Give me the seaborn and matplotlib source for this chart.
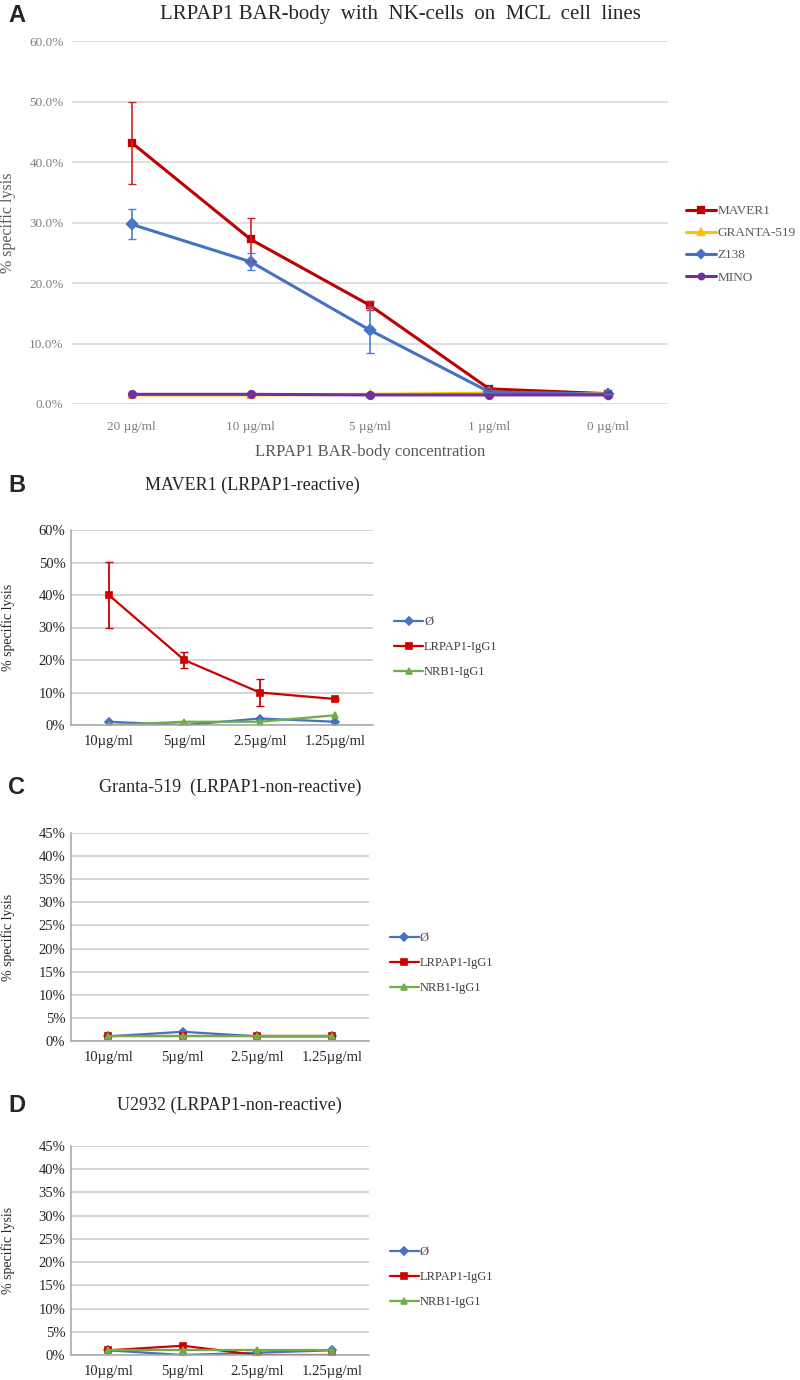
import pandas as pd
import numpy as np
import matplotlib
matplotlib.use('Agg')
import matplotlib.pyplot as plt
from matplotlib.ticker import PercentFormatter
import seaborn as sns

# Panel A data (% specific lysis)
conc_a = ['20 µg/ml', '10 µg/ml', '5 µg/ml', '1 µg/ml', '0 µg/ml']
lines_a = ['MAVER1', 'GRANTA-519', 'Z138', 'MINO']
maver1 = [43.2, 27.2, 16.3, 2.5, 1.7]
maver1_err = [6.8, 3.5, 0.7, 0.0, 0.0]
granta = [1.5, 1.5, 1.6, 1.8, 1.7]
z138 = [29.7, 23.5, 12.2, 2.0, 1.6]
z138_err = [2.5, 1.4, 3.8, 0.0, 0.0]
mino = [1.6, 1.6, 1.5, 1.5, 1.5]

# Panels B-D data
conc_bcd = ['10µg/ml', '5µg/ml', '2.5µg/ml', '1.25µg/ml']
treat = ['Ø', 'LRPAP1-IgG1', 'NRB1-IgG1']
b_none = [1, 0, 2, 1]
b_lrpap1 = [40, 20, 10, 8]
b_lrpap1_err = [10.3, 2.5, 4.2, 0.4]
b_nrb1 = [0, 1, 1, 3]
c_none = [1, 2, 1, 1]
c_lrpap1 = [1, 1, 1, 1]
c_nrb1 = [1, 1, 1, 1]
d_none = [1, 0, 0.5, 1]
d_lrpap1 = [1, 2, 0, 0]
d_nrb1 = [1, 1, 1, 1]

colors_a = ['#c00000', '#ffc000', '#4472c4', '#7030a0']
colors_b = ['#4472c4', '#cc0000', '#70ad47']

sns.set_style('white')
plt.rcParams['font.family'] = ['Liberation Serif', 'DejaVu Serif']

W, H = 800, 1380
fig = plt.figure(figsize=(W / 100, H / 100), dpi=100)


def box(x0, x1, ytop, ybot):
    return [x0 / W, 1 - ybot / H, (x1 - x0) / W, (ybot - ytop) / H]


def long_df(cats, names, series):
    return pd.DataFrame({
        'conc': np.tile(cats, len(names)),
        'lysis': np.concatenate([np.asarray(s, float) for s in series]),
        'line': np.repeat(names, len(cats)),
    })


def draw(ax, cats, names, series, colors, markers, lw, ms):
    df = long_df(cats, names, series)
    sns.pointplot(data=df, x='conc', y='lysis', hue='line', order=cats,
                  hue_order=names, palette=dict(zip(names, colors)),
                  markers=markers, linestyles='-', errorbar=None,
                  linewidth=lw, markersize=ms, ax=ax)
    ax.set_xlim(-0.5, len(cats) - 0.5)


# ---------------- Panel A ----------------
axa = fig.add_axes(box(72, 668, 41, 404))
draw(axa, conc_a, lines_a, [maver1, granta, z138, mino], colors_a,
     ['s', '^', 'D', 'o'], 2.2, 5)
axa.errorbar(range(len(conc_a)), maver1, yerr=maver1_err, fmt='none',
             ecolor='#d42020', elinewidth=1.2, capsize=3, zorder=5)
axa.errorbar(range(len(conc_a)), z138, yerr=z138_err, fmt='none',
             ecolor='#4a7fd0', elinewidth=1.2, capsize=3, zorder=5)
axa.set_ylim(0, 60)
axa.set_yticks(np.arange(0, 61, 10))
axa.yaxis.set_major_formatter(PercentFormatter(decimals=1))
axa.yaxis.grid(True, color='#d9d9d9', lw=1.2)
axa.set_axisbelow(True)
for s in axa.spines.values():
    s.set_visible(False)
axa.tick_params(length=0, labelsize=9.5, labelcolor='#7f7f7f', pad=6)
axa.tick_params(axis='x', pad=12)
axa.set_xlabel('LRPAP1 BAR-body concentration', fontsize=12, color='#595959', labelpad=8)
axa.set_ylabel('% specific lysis', fontsize=11.5, color='#595959')
axa.yaxis.set_label_coords(-56 / 596, 0.5)
sns.move_legend(axa, 'center left', bbox_to_anchor=(1.03, 0.44), frameon=False,
                title=None, fontsize=9.5, handlelength=2.3, handletextpad=0.1,
                labelspacing=0.75, borderaxespad=0, borderpad=0, labelcolor='#595959',
                markerscale=0.8)
fig.text(400 / W, 1 - 15 / H, 'LRPAP1 BAR-body  with  NK-cells  on  MCL  cell  lines',
         ha='center', va='center', fontsize=15)

# ---------------- Panels B-D ----------------
panels = [
    ('B', 'MAVER1 (LRPAP1-reactive)', (71, 373, 530, 725), 60, 10,
     [b_none, b_lrpap1, b_nrb1], 485, 252, 0.40),
    ('C', 'Granta-519  (LRPAP1-non-reactive)', (71, 369, 833, 1041), 45, 5,
     [c_none, c_lrpap1, c_nrb1], 787, 230, 0.375),
    ('D', 'U2932 (LRPAP1-non-reactive)', (71, 369, 1146, 1355), 45, 5,
     [d_none, d_lrpap1, d_nrb1], 1105, 229, 0.373),
]

for letter, title, bx, ymax, step, series, ty, tx, legy in panels:
    ax = fig.add_axes(box(*bx))
    draw(ax, conc_bcd, treat, series, colors_b, ['D', 's', '^'], 1.6, 4)
    if letter == 'B':
        ax.errorbar(range(len(conc_bcd)), b_lrpap1, yerr=b_lrpap1_err, fmt='none',
                    ecolor='#cc0000', elinewidth=1.3, capsize=3, zorder=5)
    ax.set_ylim(0, ymax)
    ax.set_yticks(np.arange(0, ymax + 1, step))
    ax.yaxis.set_major_formatter(PercentFormatter(decimals=0))
    ax.yaxis.grid(True, color='#c8c8c8', lw=1.1)
    ax.set_axisbelow(True)
    for k in ['top', 'right']:
        ax.spines[k].set_visible(False)
    for k in ['left', 'bottom']:
        ax.spines[k].set_color('#a6a6a6')
        ax.spines[k].set_linewidth(1.1)
    ax.tick_params(length=0, labelsize=10.5, labelcolor='#262626', pad=4)
    ax.tick_params(axis='x', pad=7)
    ax.set_xlabel('')
    ax.set_ylabel('% specific lysis', fontsize=10, color='#262626')
    ax.yaxis.set_label_coords(-56 / (bx[1] - bx[0]), 0.5)
    sns.move_legend(ax, 'center left', bbox_to_anchor=(1.07, legy), frameon=False,
                    title=None, fontsize=9, handlelength=2.3, handletextpad=0.1,
                    labelspacing=1.05, borderaxespad=0, borderpad=0, labelcolor='#404040')
    fig.text(tx / W, 1 - ty / H, title, ha='center', va='center', fontsize=13)
    fig.text(8 / W, 1 - ty / H, letter, ha='left', va='center', fontsize=17,
             fontweight='bold', family='Liberation Sans')

fig.text(8 / W, 1 - 16 / H, 'A', ha='left', va='center', fontsize=17,
         fontweight='bold', family='Liberation Sans')

fig.savefig('out.png', dpi=100)
